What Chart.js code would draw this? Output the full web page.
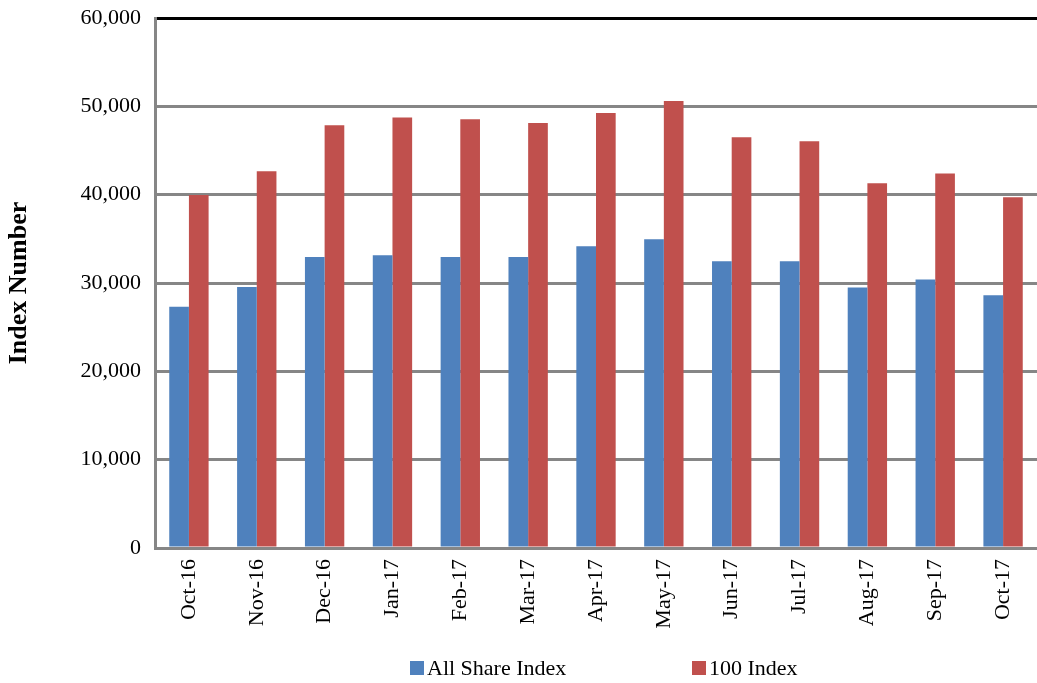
<!DOCTYPE html>
<html>
<head>
<meta charset="utf-8">
<script src="https://cdn.jsdelivr.net/npm/chart.js@4.4.0/dist/chart.umd.min.js"></script>
<style>
  html, body { margin: 0; padding: 0; background: #fff; }
  #wrap { position: relative; width: 1037px; height: 683px; }
  #legend { position: absolute; top: 655px; left: 0; width: 1037px; height: 26px;
    font-family: "Liberation Serif", "Times New Roman", serif; font-size: 22px; color: #000; }
  .item { position: absolute; top: 0; white-space: nowrap; line-height: 26px; }
  .box { display: inline-block; width: 14px; height: 14px; margin-right: 3px; vertical-align: 0px; }
</style>
</head>
<body>
<div id="wrap">
  <canvas id="c" width="1037" height="683"></canvas>
  <div id="legend"></div>
</div>
<script>
const categories = ["Oct-16","Nov-16","Dec-16","Jan-17","Feb-17","Mar-17","Apr-17","May-17","Jun-17","Jul-17","Aug-17","Sep-17","Oct-17"];
const allShareIndex = [27300, 29550, 32950, 33150, 32950, 32950, 34150, 34950, 32450, 32450, 29500, 30400, 28600];
const index100 = [39950, 42650, 47850, 48750, 48550, 48100, 49250, 50600, 46500, 46050, 41300, 42400, 39700];
const seriesNames = ["All Share Index", "100 Index"];
const seriesColors = ["#4F81BD", "#C0504D"];
const yTicks = [0, 10000, 20000, 30000, 40000, 50000, 60000];

const font = { family: "'Liberation Serif', 'Times New Roman', serif", size: 22 };

new Chart(document.getElementById('c'), {
  type: 'bar',
  data: {
    labels: categories,
    datasets: [
      { label: seriesNames[0], data: allShareIndex, backgroundColor: seriesColors[0] },
      { label: seriesNames[1], data: index100, backgroundColor: seriesColors[1] }
    ]
  },
  options: {
    responsive: false,
    animation: false,
    layout: { padding: { top: 18, right: 0, bottom: 0, left: 0 } },
    plugins: { legend: { display: false }, tooltip: { enabled: false } },
    datasets: { bar: { categoryPercentage: 0.58, barPercentage: 1.0 } },
    scales: {
      x: {
        grid: { display: false, drawTicks: false },
        border: { display: true, color: '#868686', width: 3 },
        ticks: { color: '#000', font: font, minRotation: 90, maxRotation: 90, padding: 11, autoSkip: false },
        afterFit: (s) => { s.height = 135; s.paddingLeft = 0; s.paddingRight = 0; }
      },
      y: {
        min: 0, max: 60000,
        afterBuildTicks: (s) => { s.ticks = yTicks.map(v => ({ value: v })); },
        grid: {
          drawTicks: false,
          lineWidth: 3,
          color: (ctx) => (ctx.tick && ctx.tick.value === 60000) ? '#000000' : '#868686'
        },
        border: { display: true, color: '#868686', width: 3 },
        ticks: {
          color: '#000', font: font, padding: 14,
          callback: (v) => v.toLocaleString('en-US')
        },
        title: {
          display: true, text: 'Index Number', color: '#000',
          font: { family: font.family, size: 26, weight: 'bold' },
          padding: { top: 4, bottom: 0 }
        },
        afterFit: (s) => { s.width = 155; s.paddingTop = 0; s.paddingBottom = 0; }
      }
    }
  }
});

const leg = document.getElementById('legend');
const positions = [410, 692];
seriesNames.forEach((n, i) => {
  const d = document.createElement('div');
  d.className = 'item';
  d.style.left = positions[i] + 'px';
  d.innerHTML = '<span class="box" style="background:' + seriesColors[i] + '"></span>' + n;
  leg.appendChild(d);
});
</script>
</body>
</html>
